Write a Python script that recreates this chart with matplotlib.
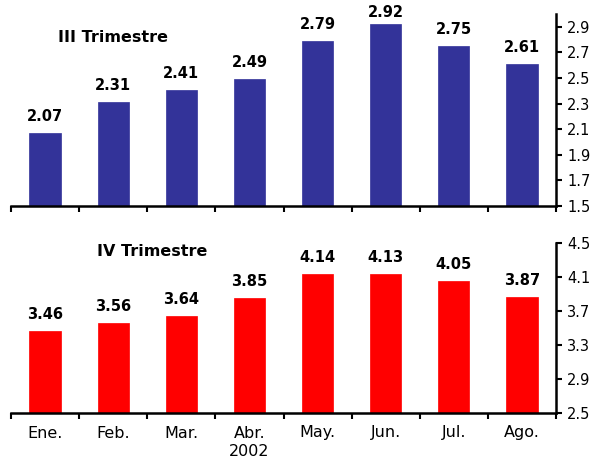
import matplotlib
matplotlib.use("Agg")
import matplotlib.pyplot as plt
import numpy as np

months = ["Ene.", "Feb.", "Mar.", "Abr.", "May.", "Jun.", "Jul.", "Ago."]
q3_values = [2.07, 2.31, 2.41, 2.49, 2.79, 2.92, 2.75, 2.61]
q4_values = [3.46, 3.56, 3.64, 3.85, 4.14, 4.13, 4.05, 3.87]
q3_ticks = [1.5, 1.7, 1.9, 2.1, 2.3, 2.5, 2.7, 2.9]
q4_ticks = [2.5, 2.9, 3.3, 3.7, 4.1, 4.5]

plt.rcParams['font.family'] = ['DejaVu Sans']

W, H = 597, 457
fig = plt.figure(figsize=(W/100, H/100), dpi=100)

def make_ax(top, bottom):
    left, right = 11, 556
    return fig.add_axes([left/W, 1-bottom/H, (right-left)/W, (bottom-top)/H])

ax1 = make_ax(14, 206)
ax2 = make_ax(243, 413)

x = np.arange(len(months))

def style(ax, vals, color, ylim, yticks, title, title_xy, show_labels):
    ax.bar(x, vals, width=0.46, color=color, edgecolor=color, linewidth=0.5, zorder=2)
    ax.set_xlim(-0.5, len(months)-0.5)
    ax.set_ylim(*ylim)
    ax.set_yticks(yticks)
    ax.set_yticklabels([f"{t:.1f}" for t in yticks], fontsize=10.5)
    ax.yaxis.tick_right()
    ax.spines['left'].set_visible(False)
    ax.spines['top'].set_visible(False)
    ax.spines['right'].set_linewidth(1.8)
    ax.spines['bottom'].set_linewidth(1.8)
    ax.tick_params(axis='y', direction='out', length=4, width=1.5, pad=4)
    ax.set_xticks(np.arange(len(months)+1) - 0.5, minor=False)
    ax.set_xticklabels([])
    ax.tick_params(axis='x', direction='out', length=4, width=1.5)
    if show_labels:
        ax.set_xticks(x, minor=True)
        ax.set_xticklabels(months, minor=True, fontsize=11.5)
        ax.tick_params(axis='x', which='minor', length=0, pad=9)
    fig.canvas.draw()
    inv = fig.transFigure.inverted()
    for xi, v in zip(x, vals):
        px, py = ax.transData.transform((xi, v))
        # label bottom 9 px above bar top, but keep inside figure (min 20 px from top)
        by = min(py + 9, fig.bbox.height - 20)
        fx, fy = inv.transform((px, by))
        fig.text(fx, fy, f"{v:.2f}", ha='center', va='bottom',
                 fontsize=10.5, fontweight='bold')
    ax.text(title_xy[0], title_xy[1], title, transform=fig.transFigure,
            fontsize=11.5, fontweight='bold', ha='left', va='center')

style(ax1, q3_values, '#333399', (1.5, 3.0), q3_ticks, "III Trimestre", (58/W, 1-37/H), False)
style(ax2, q4_values, '#FF0000', (2.5, 4.5), q4_ticks, "IV Trimestre", (97/W, 1-252/H), True)

fig.text(249/W, 1-451/H, "2002", ha='center', va='center', fontsize=11.5)

fig.savefig("out.png", dpi=100)
